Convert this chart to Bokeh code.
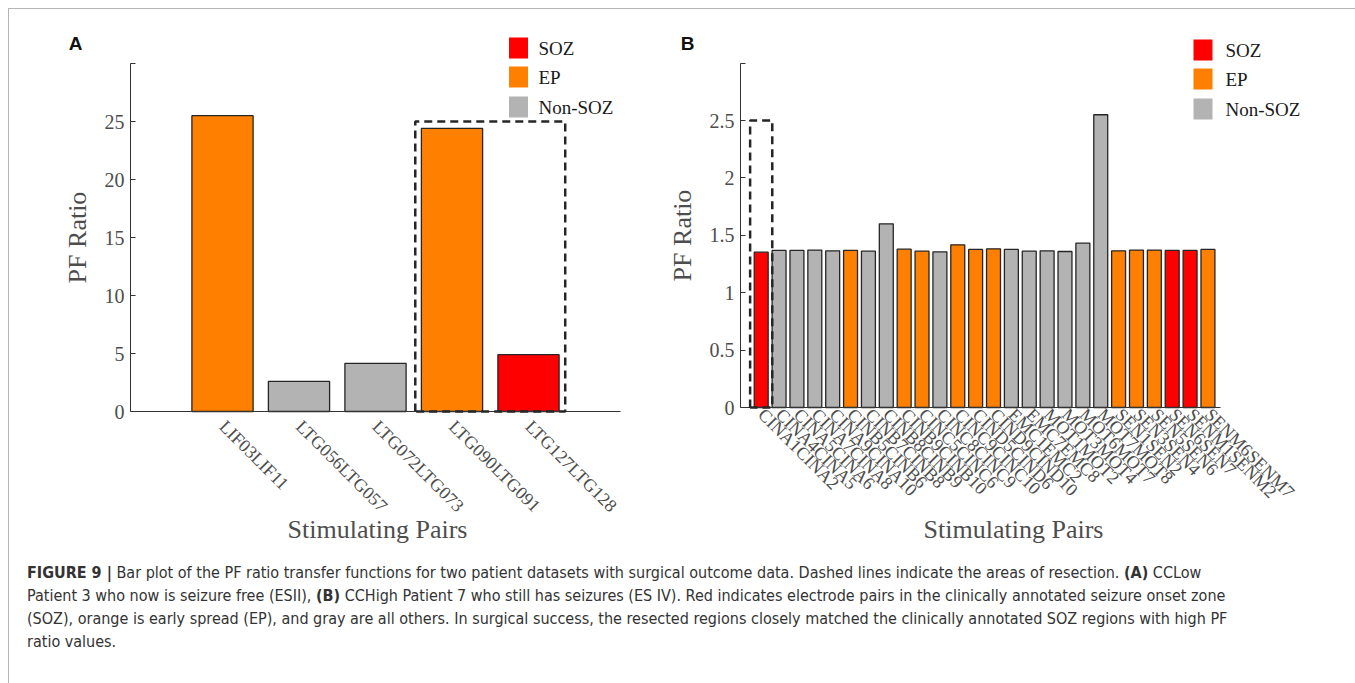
import math
from bokeh.plotting import figure
from bokeh.models import Range1d, FixedTicker, Div
from bokeh.layouts import row, column
from bokeh.embed import file_html
from bokeh.resources import INLINE
from bokeh.core.properties import value

# ---------------- data ----------------
a_pairs = ["LIF03LIF11", "LTG056LTG057", "LTG072LTG073", "LTG090LTG091", "LTG127LTG128"]
a_ratio = [25.5, 2.6, 4.15, 24.4, 4.9]
a_group = ["EP", "Non-SOZ", "Non-SOZ", "EP", "SOZ"]
a_resected = ["LTG090LTG091", "LTG127LTG128"]
a_resect_level = 25
a_yticks = [0, 5, 10, 15, 20, 25, 30]
a_ytick_labels = ["0", "5", "10", "15", "20", "25", ""]

b_pairs = ["CINA1CINA2", "CINA4CINA5", "CINA5CINA6", "CINA7CINA8", "CINA9CINA10",
           "CINB5CINB6", "CINB7CINB8", "CINB8CINB9", "CINB9CINB10", "CINC5CINC6",
           "CINC8CINC9", "CINC9CINC10", "CIND5CIND6", "CIND9CIND10", "EMC1EMC2",
           "EMC7EMC8", "MOT1MOT2", "MOT3MOT4", "MOT6MOT7", "MOT7MOT8",
           "SEN1SEN2", "SEN3SEN4", "SEN5SEN6", "SEN6SEN7", "SENM1SENM2", "SENM6SENM7"]
b_ratio = [1.353, 1.368, 1.368, 1.371, 1.365, 1.368, 1.362, 1.600, 1.379, 1.362,
           1.356, 1.417, 1.377, 1.382, 1.377, 1.362, 1.365, 1.359, 1.431, 2.55,
           1.365, 1.371, 1.371, 1.368, 1.368, 1.377]
b_group = ["SOZ", "Non-SOZ", "Non-SOZ", "Non-SOZ", "Non-SOZ", "EP", "Non-SOZ", "Non-SOZ",
           "EP", "EP", "Non-SOZ", "EP", "EP", "EP", "Non-SOZ", "Non-SOZ", "Non-SOZ",
           "Non-SOZ", "Non-SOZ", "Non-SOZ", "EP", "EP", "EP", "SOZ", "SOZ", "EP"]
b_resected = ["CINA1CINA2"]
b_resect_level = 2.5
b_yticks = [0, 0.5, 1, 1.5, 2, 2.5, 3]
b_ytick_labels = ["0", "0.5", "1", "1.5", "2", "2.5", ""]

legend_groups = ["SOZ", "EP", "Non-SOZ"]
group_colors = {"SOZ": "#ff0000", "EP": "#ff8000", "Non-SOZ": "#b3b3b3"}

SERIF = "Liberation Serif"
TICK_COL = "#4d4d4d"
EDGE = "#262626"
AXIS_COL = "#333333"
PLOT_H = 536
PAGE_TOP = 9


def panel(letter, pairs, ratios, groups, resected, level, yticks, ytick_labels,
          width, page_left, axis_page_x, px_per_unit, first_bar_px, axis_end_page,
          title_center_page, axis_page_y, y_px_per_unit, bar_w, box_pad,
          leg_sq_x, leg_txt_x, leg_rows_y, letter_xy, label_standoff, title_standoff):

    # page pixel -> data mapping (bar i sits at first_bar_px + i*px_per_unit)
    def dx(page_x):
        return (page_x - first_bar_px) / px_per_unit

    def dy(page_y):
        return (axis_page_y - page_y) / y_px_per_unit

    # the frame covers the whole plot; both axes are placed at fixed data locations
    x_start, x_end = dx(page_left), dx(page_left + width)
    y_start, y_end = dy(PAGE_TOP + PLOT_H), dy(PAGE_TOP)
    axis_x = dx(axis_page_x)

    p = figure(width=width, height=PLOT_H, output_backend="svg", toolbar_location=None,
               x_range=Range1d(x_start, x_end), y_range=Range1d(y_start, y_end),
               min_border=0)
    p.outline_line_color = None
    p.grid.visible = False
    p.background_fill_color = "white"
    p.border_fill_color = "white"

    idx = list(range(len(pairs)))
    colors = [group_colors[g] for g in groups]
    p.vbar(x=idx, top=ratios, bottom=0, width=bar_w, fill_color=colors, line_color=EDGE,
           line_width=1.3)

    # x axis baseline
    p.segment(x0=[axis_x], y0=[0], x1=[dx(axis_end_page)], y1=[0],
              line_color=AXIS_COL, line_width=1)

    # resection box
    i0 = pairs.index(resected[0])
    i1 = pairs.index(resected[-1])
    xs = [i0 - box_pad, i0 - box_pad, i1 + box_pad, i1 + box_pad, i0 - box_pad]
    ys = [0, level, level, 0, 0]
    p.line(xs, ys, line_dash="8 5", line_width=2.5, line_color=EDGE)

    # legend
    p.rect(x=[dx(leg_sq_x)] * 3, y=[dy(v) for v in leg_rows_y], width=19, height=21,
           width_units="screen", height_units="screen",
           fill_color=[group_colors[g] for g in legend_groups], line_color=None)
    p.text(x=[dx(leg_txt_x)] * 3, y=[dy(v) for v in leg_rows_y], text=legend_groups,
           text_font=value(SERIF), text_font_size="19px", text_baseline="middle",
           text_align="left", text_color="#1a1a1a")

    # panel letter
    p.text(x=[dx(letter_xy[0])], y=[dy(letter_xy[1])], text=[letter],
           text_font=value("Liberation Sans"), text_font_style="bold",
           text_font_size="19px", text_align="center", text_baseline="middle",
           text_color="#111111")

    # x axis (its own line hidden; bounds chosen so the title is centred where wanted)
    xa = p.xaxis[0]
    xa.fixed_location = 0
    xa.ticker = FixedTicker(ticks=idx)
    xa.major_label_overrides = {i: n for i, n in zip(idx, pairs)}
    xa.major_label_orientation = -math.pi / 4
    xa.major_tick_in = 0
    xa.major_tick_out = 0
    xa.minor_tick_line_color = None
    xa.bounds = (axis_x, dx(2 * title_center_page - axis_page_x))
    xa.axis_line_color = None
    xa.major_label_text_font = SERIF
    xa.major_label_text_font_size = "18px"
    xa.major_label_text_color = TICK_COL
    xa.major_label_standoff = label_standoff
    xa.axis_label = "Stimulating Pairs"
    xa.axis_label_text_font = SERIF
    xa.axis_label_text_font_size = "26px"
    xa.axis_label_text_font_style = "normal"
    xa.axis_label_text_color = TICK_COL
    xa.axis_label_standoff = title_standoff

    # y axis
    ya = p.yaxis[0]
    ya.fixed_location = axis_x
    ya.ticker = FixedTicker(ticks=yticks)
    ya.major_label_overrides = {t: l for t, l in zip(yticks, ytick_labels)}
    ya.major_tick_in = 5
    ya.major_tick_out = 0
    ya.minor_tick_line_color = None
    ya.bounds = (yticks[0], yticks[-1])
    ya.axis_line_color = AXIS_COL
    ya.major_tick_line_color = AXIS_COL
    ya.major_label_text_font = SERIF
    ya.major_label_text_font_size = "20px"
    ya.major_label_text_color = TICK_COL
    ya.major_label_standoff = 6
    ya.axis_label = "PF Ratio"
    ya.axis_label_text_font = SERIF
    ya.axis_label_text_font_size = "26px"
    ya.axis_label_text_font_style = "normal"
    ya.axis_label_text_color = TICK_COL
    ya.axis_label_standoff = 10
    return p


pA = panel("A", a_pairs, a_ratio, a_group, a_resected, a_resect_level, a_yticks, a_ytick_labels,
           width=630, page_left=9, axis_page_x=130, px_per_unit=76.5, first_bar_px=222,
           axis_end_page=620, title_center_page=377, axis_page_y=411, y_px_per_unit=11.6,
           bar_w=0.8, box_pad=0.48,
           leg_sq_x=518, leg_txt_x=538, leg_rows_y=[47.5, 76.5, 106.5], letter_xy=(75, 43),
           label_standoff=12, title_standoff=-11)

pB = panel("B", b_pairs, b_ratio, b_group, b_resected, b_resect_level, b_yticks, b_ytick_labels,
           width=707, page_left=639, axis_page_x=740, px_per_unit=17.87, first_bar_px=760.7,
           axis_end_page=1220, title_center_page=1013, axis_page_y=407, y_px_per_unit=114.8,
           bar_w=0.78, box_pad=0.62,
           leg_sq_x=1202.5, leg_txt_x=1225, leg_rows_y=[49.5, 78.5, 108.5], letter_xy=(687, 43),
           label_standoff=4, title_standoff=3)

caption_html = (
    "<b>FIGURE 9 |</b> Bar plot of the PF ratio transfer functions for two patient datasets with "
    "surgical outcome data. Dashed lines indicate the areas of resection. <b>(A)</b> CCLow<br>"
    "Patient 3 who now is seizure free (ESII), <b>(B)</b> CCHigh Patient 7 who still has seizures "
    "(ES IV). Red indicates electrode pairs in the clinically annotated seizure onset zone<br>"
    "(SOZ), orange is early spread (EP), and gray are all others. In surgical success, the resected "
    "regions closely matched the clinically annotated SOZ regions with high PF<br>"
    "ratio values."
)
caption = Div(text=caption_html, width=1337, height=138,
              styles={"font-family": "'Liberation Sans Narrow', 'DejaVu Sans Condensed', 'Roboto', sans-serif",
                      "font-size": "16px", "line-height": "23px", "color": "#333333",
                      "white-space": "nowrap", "padding": "11px 0 0 13px", "box-sizing": "border-box"})

layout = column(row(pA, pB), caption, margin=(8, 0, 0, 8),
                styles={"border-top": "1px solid #b5b5b5", "border-left": "1px solid #b5b5b5",
                        "border-right": "1px solid #b5b5b5", "background": "white"})

open("out.html", "w").write(file_html(layout, INLINE))
